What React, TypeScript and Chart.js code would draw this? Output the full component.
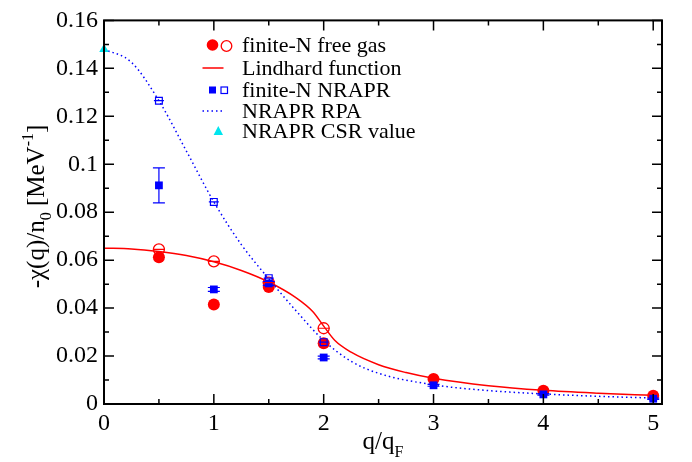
import React, { useEffect, useRef } from "react";
import { Chart, registerables } from "chart.js";

Chart.register(...registerables);

// ---- data ----
const qFinite = [0.5, 1, 1.5, 2, 3, 4, 5];
const freeGasFilled = [0.0612, 0.0415, 0.0488, 0.0253, 0.0104, 0.0055, 0.0034];
const qOpen = [0.5, 1, 1.5, 2];
const freeGasOpen = [0.0645, 0.0595, 0.0506, 0.0316];
const nrapFilled = [0.0912, 0.0478, 0.0503, 0.0194, 0.0078, 0.004, 0.0022];
const nrapFilledErr = [0.0073, 0.0008, 0.0008, 0.0006, 0.0004, 0.0003, 0.0003];
const nrapOpen = [0.1265, 0.0843, 0.0525, 0.0258];
const nrapOpenErr = [0, 0, 0, 0];
const freeGasOpenErr = [0, 0, 0, 0];

const lindQ = [0, 0.25, 0.5, 0.75, 1, 1.25, 1.5, 1.75, 1.9, 2, 2.1, 2.25, 2.5, 2.75, 3, 3.5, 4, 4.5, 5];
const lindVal = [0.065, 0.0647, 0.0636, 0.0619, 0.0593, 0.0557, 0.0509, 0.0443, 0.0386, 0.0325, 0.0266, 0.0216, 0.0164, 0.0131, 0.0107, 0.0076, 0.0057, 0.0045, 0.0036];

const rpaQ = [0, 0.25, 0.5, 0.75, 1, 1.25, 1.5, 1.75, 2, 2.25, 2.5, 3, 3.5, 4, 4.5, 5];
const rpaVal = [0.148, 0.1425, 0.1265, 0.1055, 0.0843, 0.0665, 0.0522, 0.0388, 0.0265, 0.0178, 0.0128, 0.008, 0.0056, 0.0042, 0.0032, 0.0025];

const csrQ = [0];
const csrVal = [0.148];

const xTicks = [0, 1, 2, 3, 4, 5];
const xTickLabels = ["0", "1", "2", "3", "4", "5"];
const yTicks = [0, 0.02, 0.04, 0.06, 0.08, 0.1, 0.12, 0.14, 0.16];
const yTickLabels = ["0", "0.02", "0.04", "0.06", "0.08", "0.1", "0.12", "0.14", "0.16"];
const xMinorTicks = [0.5, 1.5, 2.5, 3.5, 4.5];
const yMinorTicks = [0.01, 0.03, 0.05, 0.07, 0.09, 0.11, 0.13, 0.15];

const legendLabels = [
  "finite-N free gas",
  "Lindhard function",
  "finite-N NRAPR",
  "NRAPR RPA",
  "NRAPR CSR value",
];

const SERIF = '"Liberation Serif", "Times New Roman", Times, serif';
const RED = "#ff0000";
const BLUE = "#0000ff";
const CYAN = "#00e5ee";

const pts = (xs: number[], ys: number[]) => xs.map((x, i) => ({ x, y: ys[i] }));

type Seg = { t: string; size: number; dy: number };
function drawRich(ctx: CanvasRenderingContext2D, segs: Seg[], cx: number, y: number) {
  let total = 0;
  for (const s of segs) {
    ctx.font = `${s.size}px ${SERIF}`;
    total += ctx.measureText(s.t).width;
  }
  let x = cx - total / 2;
  ctx.textAlign = "left";
  ctx.textBaseline = "alphabetic";
  for (const s of segs) {
    ctx.font = `${s.size}px ${SERIF}`;
    ctx.fillText(s.t, x, y + s.dy);
    x += ctx.measureText(s.t).width;
  }
}

const errorBars = [
  { ds: 2, err: nrapFilledErr, color: BLUE, cap: 12 },
  { ds: 3, err: nrapOpenErr, color: BLUE, cap: 10 },
  { ds: 1, err: freeGasOpenErr, color: RED, cap: 12 },
];

const decorPlugin = {
  id: "decor",
  afterDatasetsDraw(chart: any) {
    const ctx = chart.ctx as CanvasRenderingContext2D;
    const xs = chart.scales.x;
    const ys = chart.scales.y;
    ctx.save();
    ctx.lineWidth = 1.2;
    for (const eb of errorBars) {
      const data = chart.data.datasets[eb.ds].data as { x: number; y: number }[];
      ctx.strokeStyle = eb.color;
      data.forEach((p, i) => {
        const px = xs.getPixelForValue(p.x);
        const yt = ys.getPixelForValue(p.y + eb.err[i]);
        const yb = ys.getPixelForValue(p.y - eb.err[i]);
        ctx.beginPath();
        ctx.moveTo(px, yt);
        ctx.lineTo(px, yb);
        ctx.moveTo(px - eb.cap / 2, yt);
        ctx.lineTo(px + eb.cap / 2, yt);
        ctx.moveTo(px - eb.cap / 2, yb);
        ctx.lineTo(px + eb.cap / 2, yb);
        ctx.stroke();
      });
    }
    ctx.restore();
  },
  afterDraw(chart: any) {
    const ctx = chart.ctx as CanvasRenderingContext2D;
    const a = chart.chartArea;
    const xs = chart.scales.x;
    const ys = chart.scales.y;
    ctx.save();
    // frame
    ctx.strokeStyle = "#000";
    ctx.lineWidth = 2;
    ctx.strokeRect(a.left, a.top, a.right - a.left, a.bottom - a.top);
    // ticks (inward)
    ctx.lineWidth = 1.5;
    ctx.beginPath();
    const xt = (v: number, len: number) => {
      const px = xs.getPixelForValue(v);
      ctx.moveTo(px, a.bottom);
      ctx.lineTo(px, a.bottom - len);
      ctx.moveTo(px, a.top);
      ctx.lineTo(px, a.top + len);
    };
    const yt = (v: number, len: number) => {
      const py = ys.getPixelForValue(v);
      ctx.moveTo(a.left, py);
      ctx.lineTo(a.left + len, py);
      ctx.moveTo(a.right, py);
      ctx.lineTo(a.right - len, py);
    };
    xTicks.forEach((v) => xt(v, 10));
    xMinorTicks.forEach((v) => xt(v, 5));
    yTicks.forEach((v) => yt(v, 10));
    yMinorTicks.forEach((v) => yt(v, 5));
    ctx.stroke();

    // axis titles
    ctx.fillStyle = "#000";
    drawRich(
      ctx,
      [
        { t: "q/q", size: 25, dy: 0 },
        { t: "F", size: 16, dy: 8 },
      ],
      383,
      449
    );
    ctx.save();
    ctx.translate(43.5, 206.5);
    ctx.rotate(-Math.PI / 2);
    drawRich(
      ctx,
      [
        { t: "-\u03C7(q)/n", size: 25, dy: 0 },
        { t: "0", size: 16, dy: 7 },
        { t: " [MeV", size: 25, dy: 0 },
        { t: "-1", size: 16, dy: -11 },
        { t: "]", size: 25, dy: 0 },
      ],
      0,
      0
    );
    ctx.restore();

    // legend
    const tx = 242;
    const rows = [45, 68, 90, 111, 131];
    ctx.font = `22px ${SERIF}`;
    ctx.textAlign = "left";
    ctx.textBaseline = "middle";
    ctx.fillStyle = "#000";
    legendLabels.forEach((l, i) => ctx.fillText(l, tx, rows[i] + 1));
    // row 1: filled + open circle
    ctx.fillStyle = RED;
    ctx.beginPath();
    ctx.arc(212.5, rows[0], 5.8, 0, Math.PI * 2);
    ctx.fill();
    ctx.strokeStyle = RED;
    ctx.lineWidth = 1.3;
    ctx.beginPath();
    ctx.arc(226.5, rows[0] + 1, 5.3, 0, Math.PI * 2);
    ctx.stroke();
    // row 2: red line
    ctx.lineWidth = 1.5;
    ctx.beginPath();
    ctx.moveTo(202.5, rows[1]);
    ctx.lineTo(223.5, rows[1]);
    ctx.stroke();
    // row 3: squares
    ctx.fillStyle = BLUE;
    ctx.fillRect(209, rows[2] - 3.5, 7, 7);
    ctx.strokeStyle = BLUE;
    ctx.lineWidth = 1.2;
    ctx.strokeRect(221, rows[2] - 3, 6.5, 6.5);
    // row 4: dotted
    ctx.lineWidth = 1.5;
    ctx.setLineDash([1.5, 3]);
    ctx.beginPath();
    ctx.moveTo(202.5, rows[3]);
    ctx.lineTo(223.5, rows[3]);
    ctx.stroke();
    ctx.setLineDash([]);
    // row 5: triangle
    ctx.fillStyle = CYAN;
    ctx.beginPath();
    ctx.moveTo(218.3, rows[4] - 5);
    ctx.lineTo(223, rows[4] + 4);
    ctx.lineTo(213.6, rows[4] + 4);
    ctx.closePath();
    ctx.fill();
    ctx.restore();
  },
};

export default function App() {
  const ref = useRef<HTMLCanvasElement | null>(null);
  useEffect(() => {
    if (!ref.current) return;
    const chart = new Chart(ref.current, {
      type: "scatter",
      data: {
        datasets: [
          {
            label: "free gas filled",
            data: pts(qFinite, freeGasFilled),
            pointStyle: "circle",
            pointRadius: 6,
            backgroundColor: RED,
            borderColor: RED,
            borderWidth: 0,
            showLine: false,
            order: 6,
            clip: false,
          } as any,
          {
            label: "free gas open",
            data: pts(qOpen, freeGasOpen),
            pointStyle: "circle",
            pointRadius: 5.5,
            backgroundColor: "rgba(0,0,0,0)",
            borderColor: RED,
            borderWidth: 1.3,
            showLine: false,
            order: 5,
            clip: false,
          },
          {
            label: "NRAPR filled",
            data: pts(qFinite, nrapFilled),
            pointStyle: "rect",
            pointRadius: 5.5,
            backgroundColor: BLUE,
            borderColor: BLUE,
            borderWidth: 0,
            showLine: false,
            order: 4,
            clip: false,
          },
          {
            label: "NRAPR open",
            data: pts(qOpen, nrapOpen),
            pointStyle: "rect",
            pointRadius: 4.8,
            backgroundColor: "rgba(0,0,0,0)",
            borderColor: BLUE,
            borderWidth: 1.2,
            showLine: false,
            order: 3,
            clip: false,
          },
          {
            label: "Lindhard",
            data: pts(lindQ, lindVal),
            showLine: true,
            pointRadius: 0,
            borderColor: RED,
            borderWidth: 1.5,
            cubicInterpolationMode: "monotone",
            order: 8,
          },
          {
            label: "RPA",
            data: pts(rpaQ, rpaVal),
            showLine: true,
            pointRadius: 0,
            borderColor: BLUE,
            borderWidth: 1.5,
            borderDash: [1.5, 3],
            cubicInterpolationMode: "monotone",
            order: 7,
          },
          {
            label: "CSR",
            data: pts(csrQ, csrVal),
            pointStyle: "triangle",
            pointRadius: 5.5,
            backgroundColor: CYAN,
            borderColor: CYAN,
            borderWidth: 0,
            showLine: false,
            order: 1,
            clip: false,
          },
        ],
      },
      options: {
        responsive: false,
        animation: false,
        events: [],
        layout: { padding: { top: 16, right: 30, left: 0, bottom: 0 } },
        plugins: { legend: { display: false }, tooltip: { enabled: false } },
        scales: {
          x: {
            type: "linear",
            min: 0,
            max: 5.08,
            grid: { display: false, drawTicks: false },
            border: { display: false },
            afterBuildTicks: (s: any) => {
              s.ticks = xTicks.map((v) => ({ value: v }));
            },
            afterFit: (s: any) => {
              s.height = 58;
            },
            ticks: {
              autoSkip: false,
              maxRotation: 0,
              padding: 5,
              color: "#000",
              font: { family: SERIF, size: 24 },
              callback: (v: any) => {
                const i = xTicks.indexOf(Number(v));
                return i >= 0 ? xTickLabels[i] : "";
              },
            },
          },
          y: {
            type: "linear",
            min: 0,
            max: 0.16,
            grid: { display: false, drawTicks: false },
            border: { display: false },
            afterBuildTicks: (s: any) => {
              s.ticks = yTicks.map((v) => ({ value: v }));
            },
            afterFit: (s: any) => {
              s.width = 104;
            },
            ticks: {
              autoSkip: false,
              padding: 6,
              color: "#000",
              font: { family: SERIF, size: 24 },
              callback: (v: any) => {
                const i = yTicks.findIndex((t) => Math.abs(t - Number(v)) < 1e-9);
                return i >= 0 ? yTickLabels[i] : "";
              },
            },
          },
        },
      },
      plugins: [decorPlugin],
    } as any);
    return () => chart.destroy();
  }, []);
  return (
    <div style={{ position: "fixed", left: 0, top: 0, width: 692, height: 462, background: "#fff" }}>
      <canvas ref={ref} width={692} height={462} style={{ display: "block", width: 692, height: 462 }} />
    </div>
  );
}
